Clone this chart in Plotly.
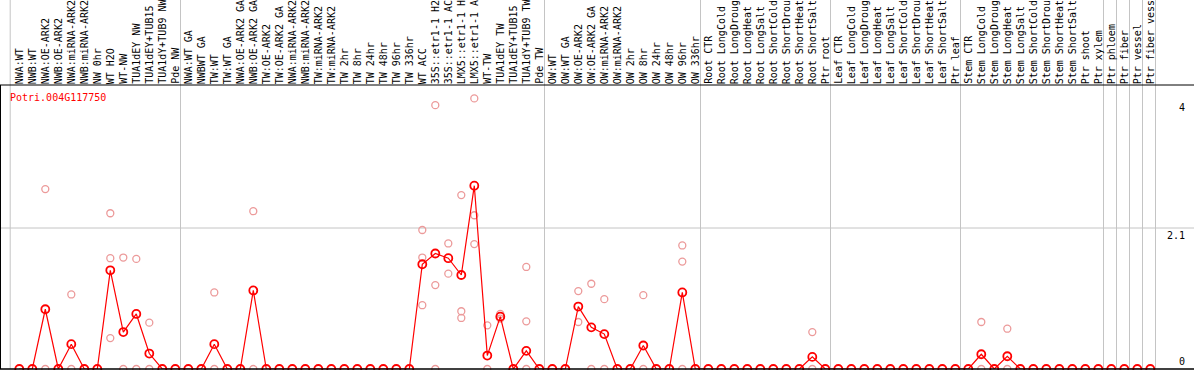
import plotly.graph_objects as go

# ---------------- data ----------------
categories = [
    "NWA:WT", "NWB:WT", "NWA:OE-ARK2", "NWB:OE-ARK2", "NWA:miRNA-ARK2", "NWB:miRNA-ARK2",
    "NW 0hr", "WT H2O", "WT-NW", "TUA1dEY NW", "TUA1dEY+TUB15 NW", "TUA1dY+TUB9 NW", "Pde NW",
    "NWA:WT GA", "NWBWT GA", "TW:WT", "TW:WT GA", "NWA:OE-ARK2 GA", "NWB:OE-ARK2 GA",
    "TW:OE-ARK2", "TW:OE-ARK2 GA", "NWA:miRNA-ARK2 GA", "NWB:miRNA-ARK2 GA", "TW:miRNA-ARK2",
    "TW:miRNA-ARK2 GA", "TW 2hr", "TW 8hr", "TW 24hr", "TW 48hr", "TW 96hr", "TW 336hr",
    "WT ACC", "35S::etr1-1 H2O", "35S::etr1-1 ACC", "LMX5::etr1-1 H2O", "LMX5::etr1-1 ACC",
    "WT-TW", "TUA1dEY TW", "TUA1dEY+TUB15 TW", "TUA1dY+TUB9 TW", "Pde TW",
    "OW:WT", "OW:WT GA", "OW:OE-ARK2", "OW:OE-ARK2 GA", "OW:miRNA-ARK2", "OW:miRNA-ARK2 GA",
    "OW 2hr", "OW 8hr", "OW 24hr", "OW 48hr", "OW 96hr", "OW 336hr",
    "Root CTR", "Root LongCold", "Root LongDrought", "Root LongHeat", "Root LongSalt",
    "Root ShortCold", "Root ShortDrought", "Root ShortHeat", "Root ShortSalt", "Ptr root",
    "Leaf CTR", "Leaf LongCold", "Leaf LongDrought", "Leaf LongHeat", "Leaf LongSalt",
    "Leaf ShortCold", "Leaf ShortDrought", "Leaf ShortHeat", "Leaf ShortSalt", "Ptr leaf",
    "Stem CTR", "Stem LongCold", "Stem LongDrought", "Stem LongHeat", "Stem LongSalt",
    "Stem ShortCold", "Stem ShortDrought", "Stem ShortHeat", "Stem ShortSalt", "Ptr shoot",
    "Ptr xylem", "Ptr phloem", "Ptr fiber", "Ptr vessel", "Ptr fiber vessel",
]

# number of samples in each group (group separators drawn after each)
group_sizes = [13, 28, 12, 10, 10, 11, 1, 1, 1, 1]

mean_values = [
    0, 0, 0.89, 0, 0.37, 0, 0, 1.47, 0.55, 0.82, 0.23, 0, 0,
    0, 0, 0.37, 0, 0, 1.17, 0, 0, 0, 0, 0, 0, 0, 0, 0, 0, 0, 0,
    1.56, 1.72, 1.65, 1.40, 2.73, 0.20, 0.78, 0, 0.27, 0,
    0, 0, 0.93, 0.62, 0.52, 0, 0, 0.35, 0, 0, 1.14, 0,
    0, 0, 0, 0, 0, 0, 0, 0, 0.18, 0,
    0, 0, 0, 0, 0, 0, 0, 0, 0, 0,
    0, 0.22, 0, 0.19, 0, 0, 0, 0, 0, 0,
    0, 0, 0, 0, 0,
]

# replicate values per sample index
replicates = {
    2: [2.68, 0], 4: [1.11, 0], 7: [2.32, 1.65, 0.46], 8: [1.66, 0], 9: [1.64, 0],
    10: [0.69, 0], 15: [1.14, 0], 18: [2.35, 0],
    31: [2.07, 1.66, 0.95], 32: [3.93, 1.25, 0], 33: [1.87, 1.42],
    34: [2.59, 0.86, 0.76], 35: [4.03, 2.29, 1.86], 36: [0.65, 0], 37: [0.82, 0.75],
    39: [1.52, 0.71, 0],
    43: [1.16, 0.70], 44: [1.27, 0], 45: [1.04, 0], 48: [1.10, 0], 51: [1.84, 1.60, 0],
    61: [0.55, 0], 74: [0.70, 0], 76: [0.60, 0],
}

gene_name = "Potri.004G117750"
y_ticks = [0, 2.1, 4]
y_tick_text = ["0", "2.1", "4"]

# ---------------- figure ----------------
FONT = "DejaVu Sans Mono"
W, H = 1194, 370
x_idx = list(range(len(categories)))

rep_x, rep_y = [], []
for i, vals in replicates.items():
    for v in vals:
        rep_x.append(i)
        rep_y.append(v)

fig = go.Figure()
fig.add_trace(go.Scatter(
    x=rep_x, y=rep_y, mode="markers",
    marker=dict(symbol="circle-open", size=7, color="#ec9a9a", line=dict(width=1.3)),
    hoverinfo="y", showlegend=False, cliponaxis=False,
))
fig.add_trace(go.Scatter(
    x=x_idx, y=mean_values, mode="lines+markers",
    line=dict(color="#ff0000", width=1.2),
    marker=dict(symbol="circle-open", size=8, color="#ff0000", line=dict(width=1.8)),
    text=categories, hoverinfo="text+y", showlegend=False, cliponaxis=False,
))

shapes = []
# group separators
bounds = [-0.7]
acc = 0
for g in group_sizes:
    acc += g
    bounds.append(acc - 1 + 0.4)
for b in bounds:
    shapes.append(dict(type="line", xref="x", yref="paper", x0=b, x1=b, y0=0, y1=1.35,
                       line=dict(color="#c4c4c4", width=1), layer="below"))
# horizontal gridline at middle tick
shapes.append(dict(type="line", xref="paper", yref="y", x0=0, x1=1, y0=2.1, y1=2.1,
                   line=dict(color="#c4c4c4", width=1), layer="below"))
# black frame lines
shapes.append(dict(type="line", xref="paper", yref="paper", x0=0, x1=1, y0=1, y1=1,
                   line=dict(color="black", width=1)))
shapes.append(dict(type="line", xref="paper", yref="paper", x0=0, x1=1, y0=0, y1=0,
                   line=dict(color="black", width=1.5)))
shapes.append(dict(type="line", xref="paper", yref="paper", x0=0, x1=0, y0=0, y1=1,
                   line=dict(color="black", width=2)))

annotations = []
for i, name in enumerate(categories):
    annotations.append(dict(
        x=i, xref="x", y=1, yref="paper", text=name, textangle=-90,
        xanchor="center", yanchor="bottom", showarrow=False, yshift=0,
        font=dict(family=FONT, size=10, color="black"), borderpad=0,
    ))
annotations.append(dict(
    x=9 / W, xref="paper", y=1, yref="paper", text=gene_name, showarrow=False,
    xanchor="left", yanchor="top", yshift=-6, borderpad=0,
    font=dict(family=FONT, size=10, color="#ff0000"),
))
for v, t in zip(y_ticks, y_tick_text):
    annotations.append(dict(
        x=1186 / W, xref="paper", y=v, yref="y", text=t, showarrow=False,
        xanchor="right", yanchor="bottom" if v == 0 else "top", borderpad=0,
        yshift=1 if v == 0 else -1,
        font=dict(family=FONT, size=10, color="black"),
    ))

x0_px = 19.3
step = 13.0
plot_h = H - 85 - 1
fig.update_layout(
    width=W, height=H,
    margin=dict(l=0, r=0, t=85, b=1, pad=0),
    paper_bgcolor="white", plot_bgcolor="white",
    xaxis=dict(range=[-x0_px / step, (W - x0_px) / step], visible=False, fixedrange=True),
    yaxis=dict(range=[0, plot_h / 67.14], visible=False, fixedrange=True),
    shapes=shapes, annotations=annotations,
    font=dict(family=FONT, size=10),
)

fig.write_html(
    "out.html",
    config={"displayModeBar": False},
    post_script="document.body.style.margin='0';document.body.style.overflow='hidden';",
)
